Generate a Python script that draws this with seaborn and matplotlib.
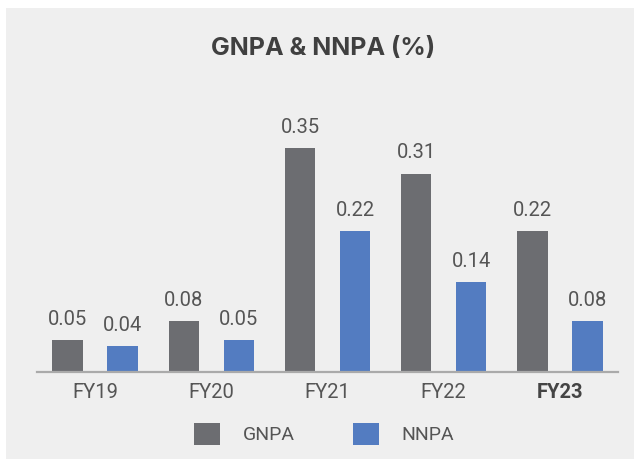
import matplotlib
matplotlib.use("Agg")
import matplotlib.pyplot as plt
from matplotlib.patches import Rectangle, Patch
import seaborn as sns
import pandas as pd

years = ["FY19", "FY20", "FY21", "FY22", "FY23"]
gnpa = [0.05, 0.08, 0.35, 0.31, 0.22]
nnpa = [0.04, 0.05, 0.22, 0.14, 0.08]
series = ["GNPA", "NNPA"]
colors = ["#6c6d71", "#537cc1"]

df = pd.DataFrame({
    "year": years * 2,
    "value": gnpa + nnpa,
    "series": [series[0]] * len(years) + [series[1]] * len(years),
})

sns.set_theme(style="white")
plt.rcParams["font.family"] = ["Roboto", "DejaVu Sans"]

W, H = 634, 459
fig = plt.figure(figsize=(W / 100, H / 100), dpi=100, facecolor="white")
fig.patches.append(Rectangle((6 / W, 0), 1 - 6 / W, 1 - 8 / H, transform=fig.transFigure,
                             facecolor="#efefef", edgecolor="none", zorder=-10))

ax = fig.add_axes([37 / W, (H - 372) / H, 581 / W, 256 / H])
ax.set_facecolor("none")
ax.set_zorder(5)
sns.barplot(data=df, x="year", y="value", hue="series", palette=colors,
            width=0.948, gap=0.45, ax=ax, legend=False, saturation=1,
            edgecolor="none", linewidth=0)

for cont in ax.containers:
    ax.bar_label(cont, labels=[f"{v:.2f}" for v in cont.datavalues],
                 padding=8, fontsize=14.5, color="#555555")

ax.set_xlim(-0.5, 4.5)
ax.set_ylim(0, 0.4)
ax.set_xlabel("")
ax.set_ylabel("")
ax.set_yticks([])
for s in ["top", "right", "left"]:
    ax.spines[s].set_visible(False)
ax.spines["bottom"].set_color("#aaaaaa")
ax.spines["bottom"].set_linewidth(1.6)
ax.tick_params(axis="x", length=0, pad=8, labelsize=14.5, labelcolor="#555555")
for lbl in ax.get_xticklabels():
    if lbl.get_text() == "FY23":
        lbl.set_fontweight("bold")
        lbl.set_color("#444444")

fig.text(323 / W, 1 - 48 / H, "GNPA & NNPA (%)", ha="center", va="center",
         fontsize=18, fontweight="bold", color="#404040",
         family=["Inter", "Roboto", "DejaVu Sans"])

handles = [Patch(facecolor=c, edgecolor="none") for c in colors]
fig.legend(handles, series, loc="center", bbox_to_anchor=(324 / W, 1 - 434 / H),
           ncol=2, frameon=False, fontsize=14, labelcolor="#555555",
           handlelength=1.34, handleheight=1.34, handletextpad=1.15, columnspacing=3.0)

fig.savefig("out.png", dpi=100, facecolor="white")
